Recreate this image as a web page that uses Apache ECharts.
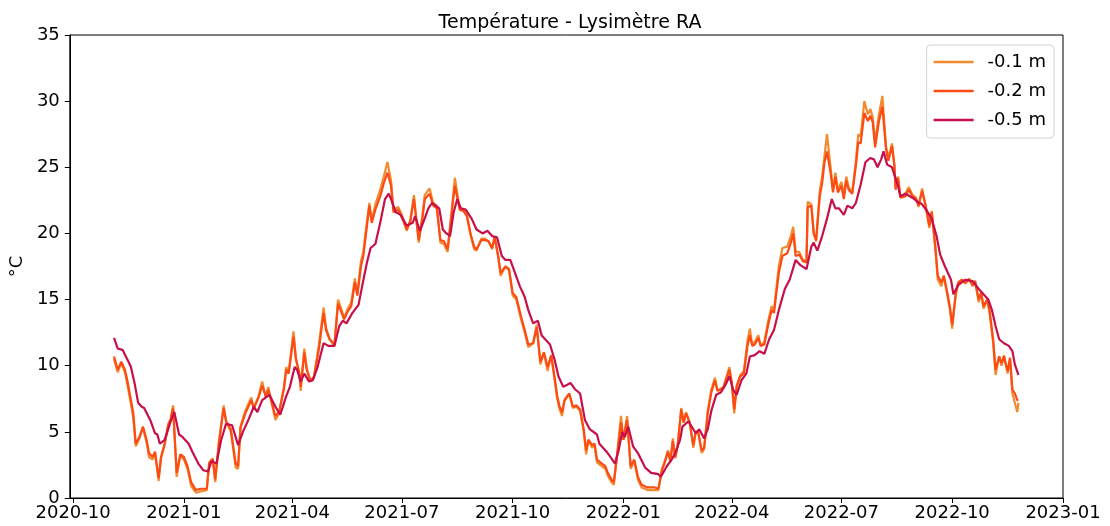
<!DOCTYPE html>
<html>
<head>
<meta charset="utf-8">
<script src="https://cdn.jsdelivr.net/npm/echarts@6/dist/echarts.min.js"></script>
<style>
  html, body { margin: 0; padding: 0; background: #fff; }
  #chart { width: 1110px; height: 526px; }
</style>
</head>
<body>
<div id="chart"></div>
<script>
// Lysimètre RA — soil temperature at three depths

const seriesNames = ['-0.1 m', '-0.2 m', '-0.5 m'];
const seriesColors = ['#f28a30', '#fd4b14', '#c70f48'];

// quarterly ticks of the date axis
const quarterTicks = ['2020-10', '2021-01', '2021-04', '2021-07', '2021-10',
  '2022-01', '2022-04', '2022-07', '2022-10', '2023-01'];

// sampling dates of the two shallow probes (-0.1 m and -0.2 m)
const surfDates = [
  '2020-11-04','2020-11-07','2020-11-10','2020-11-13','2020-11-15','2020-11-18','2020-11-20','2020-11-22','2020-11-25','2020-11-28',
  '2020-12-01','2020-12-03','2020-12-06','2020-12-08','2020-12-11','2020-12-13','2020-12-16','2020-12-19','2020-12-21','2020-12-23',
  '2020-12-26','2020-12-29','2021-01-01','2021-01-04','2021-01-07','2021-01-11','2021-01-15','2021-01-20','2021-01-22','2021-01-25',
  '2021-01-27','2021-01-30','2021-02-03','2021-02-05','2021-02-09','2021-02-13','2021-02-15','2021-02-17','2021-02-21','2021-02-26',
  '2021-02-28','2021-03-04','2021-03-07','2021-03-10','2021-03-12','2021-03-15','2021-03-18','2021-03-21','2021-03-25','2021-03-27',
  '2021-03-29','2021-04-02','2021-04-04','2021-04-07','2021-04-08','2021-04-11','2021-04-13','2021-04-16','2021-04-19','2021-04-23',
  '2021-04-27','2021-04-29','2021-05-02','2021-05-06','2021-05-09','2021-05-12','2021-05-14','2021-05-17','2021-05-20','2021-05-23',
  '2021-05-25','2021-05-28','2021-05-30','2021-06-01','2021-06-04','2021-06-06','2021-06-09','2021-06-13','2021-06-16','2021-06-19',
  '2021-06-22','2021-06-24','2021-06-28','2021-07-01','2021-07-05','2021-07-08','2021-07-11','2021-07-15','2021-07-18','2021-07-20',
  '2021-07-24','2021-07-27','2021-07-30','2021-08-02','2021-08-05','2021-08-08','2021-08-12','2021-08-14','2021-08-18','2021-08-21',
  '2021-08-24','2021-08-27','2021-08-30','2021-09-01','2021-09-05','2021-09-08','2021-09-11','2021-09-14','2021-09-16','2021-09-19',
  '2021-09-21','2021-09-25','2021-09-28','2021-10-01','2021-10-04','2021-10-08','2021-10-11','2021-10-14','2021-10-18','2021-10-21',
  '2021-10-24','2021-10-27','2021-10-30','2021-11-02','2021-11-05','2021-11-07','2021-11-09','2021-11-11','2021-11-13','2021-11-17',
  '2021-11-20','2021-11-23','2021-11-26','2021-11-29','2021-12-01','2021-12-03','2021-12-06','2021-12-08','2021-12-10','2021-12-14',
  '2021-12-17','2021-12-19','2021-12-22','2021-12-24','2021-12-27','2021-12-30','2022-01-01','2022-01-04','2022-01-07','2022-01-10',
  '2022-01-13','2022-01-16','2022-01-21','2022-01-27','2022-01-30','2022-02-02','2022-02-04','2022-02-07','2022-02-09','2022-02-11',
  '2022-02-13','2022-02-15','2022-02-18','2022-02-20','2022-02-22','2022-02-25','2022-02-28','2022-03-02','2022-03-04','2022-03-07',
  '2022-03-09','2022-03-12','2022-03-15','2022-03-18','2022-03-20','2022-03-25','2022-03-30','2022-04-01','2022-04-03','2022-04-05',
  '2022-04-08','2022-04-11','2022-04-14','2022-04-16','2022-04-18','2022-04-20','2022-04-23','2022-04-25','2022-04-28','2022-05-01',
  '2022-05-04','2022-05-06','2022-05-08','2022-05-10','2022-05-13','2022-05-17','2022-05-20','2022-05-22','2022-05-24','2022-05-27',
  '2022-05-30','2022-06-02','2022-06-03','2022-06-06','2022-06-08','2022-06-10','2022-06-13','2022-06-15','2022-06-17','2022-06-19',
  '2022-06-22','2022-06-24','2022-06-26','2022-06-28','2022-07-01','2022-07-03','2022-07-05','2022-07-07','2022-07-10','2022-07-13',
  '2022-07-15','2022-07-17','2022-07-20','2022-07-23','2022-07-25','2022-07-27','2022-07-29','2022-08-01','2022-08-04','2022-08-07',
  '2022-08-09','2022-08-12','2022-08-14','2022-08-15','2022-08-17','2022-08-19','2022-08-23','2022-08-26','2022-08-29','2022-09-01',
  '2022-09-03','2022-09-06','2022-09-09','2022-09-12','2022-09-14','2022-09-17','2022-09-19','2022-09-22','2022-09-24','2022-09-27',
  '2022-09-29','2022-10-01','2022-10-04','2022-10-06','2022-10-09','2022-10-12','2022-10-15','2022-10-18','2022-10-20','2022-10-23',
  '2022-10-25','2022-10-27','2022-10-30','2022-11-01','2022-11-04','2022-11-06','2022-11-09','2022-11-11','2022-11-13','2022-11-16',
  '2022-11-18','2022-11-20','2022-11-22','2022-11-24','2022-11-25'
];

// temperature at -0.1 m (°C)
const t01 = [
  10.5,9.5,10.2,9.5,8.6,7.1,6.0,3.9,4.5,5.3,
  4.2,3.1,2.9,3.4,1.3,3.0,4.0,5.6,6.0,7.0,
  1.6,3.2,2.9,2.2,0.9,0.4,0.5,0.6,2.7,3.0,
  1.2,4.2,7.0,5.8,5.0,2.3,2.2,5.4,6.6,7.6,
  6.7,7.7,8.8,7.6,8.4,7.1,5.9,6.4,8.4,9.9,
  9.5,12.6,10.6,9.2,8.1,11.3,9.8,8.8,9.2,11.5,
  14.4,12.9,12.0,11.5,15.0,14.2,13.6,14.3,14.8,16.6,
  15.4,17.9,18.6,20.2,22.3,21.0,22.2,23.3,24.3,25.4,
  24.0,21.8,22.0,21.4,20.2,21.0,22.9,19.3,21.3,22.9,
  23.4,22.3,22.1,19.3,19.2,18.6,22.3,24.2,21.9,21.8,
  21.4,19.9,18.8,18.7,19.6,19.6,19.4,18.8,19.8,18.2,
  16.8,17.5,17.2,15.3,15.0,13.5,12.5,11.4,11.7,13.1,
  10.1,11.0,9.6,10.8,8.8,7.5,6.7,6.2,7.3,7.9,
  6.8,6.9,6.6,5.0,3.3,4.4,3.8,4.0,2.7,2.4,
  2.2,1.7,1.2,1.0,3.6,6.2,4.4,6.2,2.2,2.8,
  1.4,0.8,0.6,0.6,0.6,2.2,2.7,3.6,2.7,4.5,
  3.0,4.0,6.8,5.7,6.5,5.7,3.8,5.0,5.0,3.4,
  3.7,6.6,8.2,9.1,8.1,8.4,9.9,8.6,6.4,8.5,
  9.3,9.6,11.9,12.8,11.5,11.8,12.3,11.5,11.8,13.3,
  14.5,14.2,15.9,17.5,18.9,19.0,19.8,20.5,18.6,18.6,
  18.0,17.9,22.4,22.2,20.0,19.4,23.2,24.3,25.9,27.5,
  25.0,23.3,24.6,23.3,23.9,22.8,24.3,23.5,23.1,25.5,
  27.5,27.3,30.0,29.0,29.4,28.8,26.9,28.9,30.4,26.6,
  25.7,26.8,25.2,23.5,24.3,22.8,23.0,23.5,22.9,22.7,
  22.0,23.4,22.0,20.4,21.7,18.8,16.5,16.0,16.8,15.3,
  14.3,12.8,15.4,16.2,16.5,16.2,16.6,16.0,16.4,14.8,
  15.5,14.3,15.0,14.0,11.7,9.3,10.7,10.0,10.8,9.4,
  10.5,7.9,7.2,6.5,7.2
];

// temperature at -0.2 m (°C)
const t02 = [
  10.7,9.7,10.3,9.7,8.9,7.4,6.4,4.1,4.6,5.4,
  4.4,3.4,3.1,3.5,1.5,3.1,4.1,5.5,5.9,6.8,
  1.9,3.3,3.1,2.4,1.2,0.6,0.7,0.7,2.6,2.9,
  1.4,4.1,6.8,5.8,5.2,2.6,2.4,5.3,6.4,7.4,
  6.8,7.6,8.5,7.7,8.2,7.2,6.2,6.5,8.2,9.7,
  9.4,12.2,10.5,9.4,8.4,11.0,9.7,8.9,9.1,11.2,
  14.0,12.7,12.0,11.6,14.7,14.0,13.5,14.1,14.5,16.3,
  15.3,17.5,18.3,19.8,22.1,20.8,21.8,22.8,23.8,24.6,
  23.6,21.6,21.8,21.2,20.3,20.9,22.6,19.5,21.1,22.6,
  23.0,22.1,21.9,19.5,19.4,18.8,22.1,23.6,21.8,21.7,
  21.3,20.0,19.0,18.8,19.5,19.5,19.4,18.9,19.7,18.3,
  17.0,17.5,17.3,15.5,15.2,13.7,12.7,11.6,11.7,12.9,
  10.3,11.0,9.9,10.8,9.0,7.7,6.9,6.5,7.4,7.9,
  6.9,7.0,6.7,5.2,3.6,4.4,4.0,4.1,2.9,2.6,
  2.4,1.9,1.4,1.2,3.4,5.7,4.4,5.9,2.4,2.9,
  1.6,1.0,0.8,0.8,0.7,2.1,2.6,3.5,2.8,4.3,
  3.1,3.9,6.7,5.7,6.4,5.7,4.0,5.0,5.0,3.6,
  3.8,6.4,8.0,8.9,8.1,8.3,9.7,8.7,6.7,8.4,
  9.2,9.4,11.5,12.3,11.5,11.6,12.1,11.5,11.6,13.0,
  14.2,14.0,15.5,17.0,18.3,18.5,19.3,20.0,18.3,18.4,
  17.9,17.8,22.0,22.1,20.0,19.5,22.8,23.8,25.4,26.2,
  24.6,23.1,24.3,23.1,23.6,22.6,24.0,23.3,23.0,25.1,
  26.9,26.8,29.1,28.5,28.9,28.4,26.5,28.4,29.6,26.4,
  25.5,26.6,25.1,23.3,24.2,22.7,22.8,23.3,22.8,22.6,
  22.1,23.2,22.1,20.6,21.6,19.0,16.8,16.3,16.8,15.5,
  14.5,13.1,15.5,16.3,16.5,16.3,16.5,16.1,16.4,15.0,
  15.5,14.5,15.0,14.2,12.0,9.7,10.7,10.2,10.7,9.6,
  10.6,8.2,7.9,7.4,7.4
];

// sampling dates of the deep probe (-0.5 m)
const deepDates = [
  '2020-11-04','2020-11-07','2020-11-11','2020-11-16','2020-11-18','2020-11-21','2020-11-24','2020-11-27','2020-11-29','2020-12-04',
  '2020-12-08','2020-12-10','2020-12-12','2020-12-16','2020-12-19','2020-12-21','2020-12-24','2020-12-28','2020-12-31','2021-01-05',
  '2021-01-08','2021-01-13','2021-01-17','2021-01-21','2021-01-24','2021-01-28','2021-02-01','2021-02-05','2021-02-10','2021-02-15',
  '2021-02-19','2021-02-24','2021-02-28','2021-03-03','2021-03-07','2021-03-13','2021-03-18','2021-03-22','2021-03-27','2021-03-30',
  '2021-04-03','2021-04-05','2021-04-08','2021-04-11','2021-04-15','2021-04-18','2021-04-22','2021-04-27','2021-05-01','2021-05-06',
  '2021-05-10','2021-05-13','2021-05-16','2021-05-21','2021-05-26','2021-05-29','2021-06-02','2021-06-05','2021-06-09','2021-06-13',
  '2021-06-17','2021-06-20','2021-06-22','2021-06-26','2021-06-30','2021-07-05','2021-07-10','2021-07-12','2021-07-16','2021-07-19',
  '2021-07-23','2021-07-26','2021-07-29','2021-08-01','2021-08-04','2021-08-07','2021-08-10','2021-08-13','2021-08-16','2021-08-19',
  '2021-08-23','2021-08-28','2021-09-01','2021-09-06','2021-09-10','2021-09-14','2021-09-18','2021-09-22','2021-09-25','2021-09-29',
  '2021-10-03','2021-10-07','2021-10-11','2021-10-14','2021-10-18','2021-10-22','2021-10-25','2021-10-28','2021-11-01','2021-11-05',
  '2021-11-08','2021-11-12','2021-11-18','2021-11-22','2021-11-26','2021-11-30','2021-12-04','2021-12-10','2021-12-12','2021-12-18',
  '2021-12-22','2021-12-25','2021-12-28','2021-12-31','2022-01-02','2022-01-05','2022-01-09','2022-01-13','2022-01-19','2022-01-24',
  '2022-01-30','2022-02-01','2022-02-06','2022-02-10','2022-02-13','2022-02-17','2022-02-19','2022-02-24','2022-02-28','2022-03-02',
  '2022-03-05','2022-03-09','2022-03-12','2022-03-15','2022-03-19','2022-03-23','2022-03-27','2022-03-30','2022-04-02','2022-04-05',
  '2022-04-09','2022-04-13','2022-04-16','2022-04-20','2022-04-24','2022-04-28','2022-05-02','2022-05-06','2022-05-10','2022-05-15',
  '2022-05-19','2022-05-24','2022-05-28','2022-06-02','2022-06-06','2022-06-08','2022-06-11','2022-06-15','2022-06-19','2022-06-23',
  '2022-06-26','2022-06-29','2022-07-03','2022-07-06','2022-07-10','2022-07-13','2022-07-17','2022-07-21','2022-07-25','2022-07-28',
  '2022-07-31','2022-08-03','2022-08-05','2022-08-08','2022-08-12','2022-08-17','2022-08-19','2022-08-23','2022-08-29','2022-09-02',
  '2022-09-06','2022-09-10','2022-09-14','2022-09-18','2022-09-21','2022-09-25','2022-09-30','2022-10-02','2022-10-06','2022-10-12',
  '2022-10-18','2022-10-23','2022-10-27','2022-10-31','2022-11-03','2022-11-06','2022-11-09','2022-11-13','2022-11-17','2022-11-20',
  '2022-11-22','2022-11-25'
];

// temperature at -0.5 m (°C)
const t05 = [
  12.1,11.3,11.2,10.3,9.9,8.7,7.2,6.9,6.8,5.9,
  4.9,4.8,4.1,4.4,5.2,5.8,6.5,4.8,4.6,4.1,
  3.5,2.6,2.1,2.0,2.8,2.6,4.4,5.6,5.5,4.0,
  5.0,6.0,6.9,6.5,7.4,7.8,6.9,6.3,7.7,8.4,
  9.9,9.7,8.8,9.4,8.8,8.9,9.9,11.7,11.5,11.5,
  13.0,13.4,13.2,14.0,14.6,16.0,17.8,18.9,19.2,20.8,
  22.6,23.0,22.6,21.6,21.4,20.6,20.8,21.3,20.2,20.9,
  21.9,22.3,22.1,21.9,20.3,20.0,19.8,21.6,22.6,21.9,
  21.8,21.1,20.3,20.0,20.2,19.8,19.7,18.3,18.0,18.0,
  17.0,16.0,15.2,14.2,13.2,13.4,12.3,12.0,11.6,10.4,
  9.2,8.4,8.7,8.2,7.9,5.9,5.2,4.8,4.1,3.5,
  3.0,2.6,3.6,5.0,4.6,5.4,3.9,3.4,2.3,1.9,
  1.8,1.6,2.4,2.9,3.4,4.4,5.4,5.8,5.2,4.9,
  5.2,4.5,5.2,6.6,7.8,8.0,8.6,9.2,8.2,7.8,
  8.9,9.4,10.7,10.8,11.1,10.9,12.0,12.7,14.2,15.8,
  16.5,18.0,17.6,17.3,19.0,19.3,18.7,19.8,21.1,22.6,
  21.9,21.9,21.4,22.1,21.9,22.3,23.7,25.4,25.7,25.6,
  25.0,25.6,26.2,25.2,25.0,23.6,22.8,23.0,22.7,22.4,
  22.2,21.7,21.1,19.8,18.4,17.5,16.5,15.4,16.1,16.5,
  16.4,15.8,15.4,15.0,14.2,13.0,12.0,11.7,11.5,11.1,
  10.1,9.3
];

const font = 'DejaVu Sans, Liberation Sans, sans-serif';

// 'YYYY-MM-DD' or 'YYYY-MM' -> timestamp (local midnight)
function toTime(s) {
  const p = s.split('-').map(Number);
  return new Date(p[0], p[1] - 1, p[2] || 1).getTime();
}
const tickTimes = quarterTicks.map(toTime);

function pairs(dates, values) {
  return dates.map((d, i) => [toTime(d), values[i]]);
}

const axisMin = new Date(2020, 8, 28, 6).getTime();
const axisMax = toTime('2023-01-01');

const chart = echarts.init(document.getElementById('chart'), null, { renderer: 'canvas' });

chart.setOption({
  animation: false,
  backgroundColor: '#ffffff',
  title: {
    text: 'Température - Lysimètre RA',
    left: 565,
    textAlign: 'center',
    top: 9,
    textStyle: { fontFamily: font, fontSize: 19, fontWeight: 'normal', color: '#000' }
  },
  legend: {
    orient: 'vertical',
    right: 56,
    top: 45,
    padding: [7, 8, 8, 7],
    itemGap: 9,
    itemWidth: 40,
    itemHeight: 2.5,
    icon: 'rect',
    borderColor: '#d4d4d4',
    borderWidth: 1,
    borderRadius: 4,
    backgroundColor: 'rgba(255,255,255,0.8)',
    textStyle: { fontFamily: font, fontSize: 18, color: '#000', lineHeight: 20, padding: [0, 0, 0, 9] },
    data: seriesNames
  },
  grid: {
    left: 67,
    right: 47,
    top: 35,
    bottom: 28,
    show: true,
    borderColor: '#000',
    borderWidth: 1,
    backgroundColor: 'transparent'
  },
  xAxis: {
    type: 'value',
    min: axisMin,
    max: axisMax,
    scale: true,
    splitLine: { show: false },
    axisLine: { show: true, onZero: false, lineStyle: { color: '#000', width: 1 } },
    axisTick: { show: true, inside: false, length: 5, lineStyle: { color: '#000', width: 1 }, customValues: tickTimes },
    axisLabel: {
      customValues: tickTimes,
      margin: 6,
      fontFamily: font,
      fontSize: 18,
      color: '#000',
      showMinLabel: true,
      showMaxLabel: true,
      formatter: function (v) {
        const d = new Date(v);
        return d.getFullYear() + '-' + String(d.getMonth() + 1).padStart(2, '0');
      }
    }
  },
  yAxis: {
    type: 'value',
    min: 0,
    max: 35,
    interval: 5,
    name: '°C',
    nameLocation: 'middle',
    nameGap: 40,
    nameTextStyle: { fontFamily: font, fontSize: 18, color: '#000' },
    splitLine: { show: false },
    axisLine: { show: true, lineStyle: { color: '#000', width: 1 } },
    axisTick: { show: true, inside: false, length: 5, lineStyle: { color: '#000', width: 1 } },
    axisLabel: { margin: 10, fontFamily: font, fontSize: 18, color: '#000' }
  },
  series: [
    {
      name: seriesNames[0], type: 'line', symbol: 'none', showSymbol: false,
      color: seriesColors[0], lineStyle: { width: 2.2, color: seriesColors[0] },
      data: pairs(surfDates, t01), z: 2
    },
    {
      name: seriesNames[1], type: 'line', symbol: 'none', showSymbol: false,
      color: seriesColors[1], lineStyle: { width: 2.2, color: seriesColors[1] },
      data: pairs(surfDates, t02), z: 3
    },
    {
      name: seriesNames[2], type: 'line', symbol: 'none', showSymbol: false,
      color: seriesColors[2], lineStyle: { width: 2.2, color: seriesColors[2] },
      data: pairs(deepDates, t05), z: 4
    }
  ]
});
</script>
</body>
</html>
